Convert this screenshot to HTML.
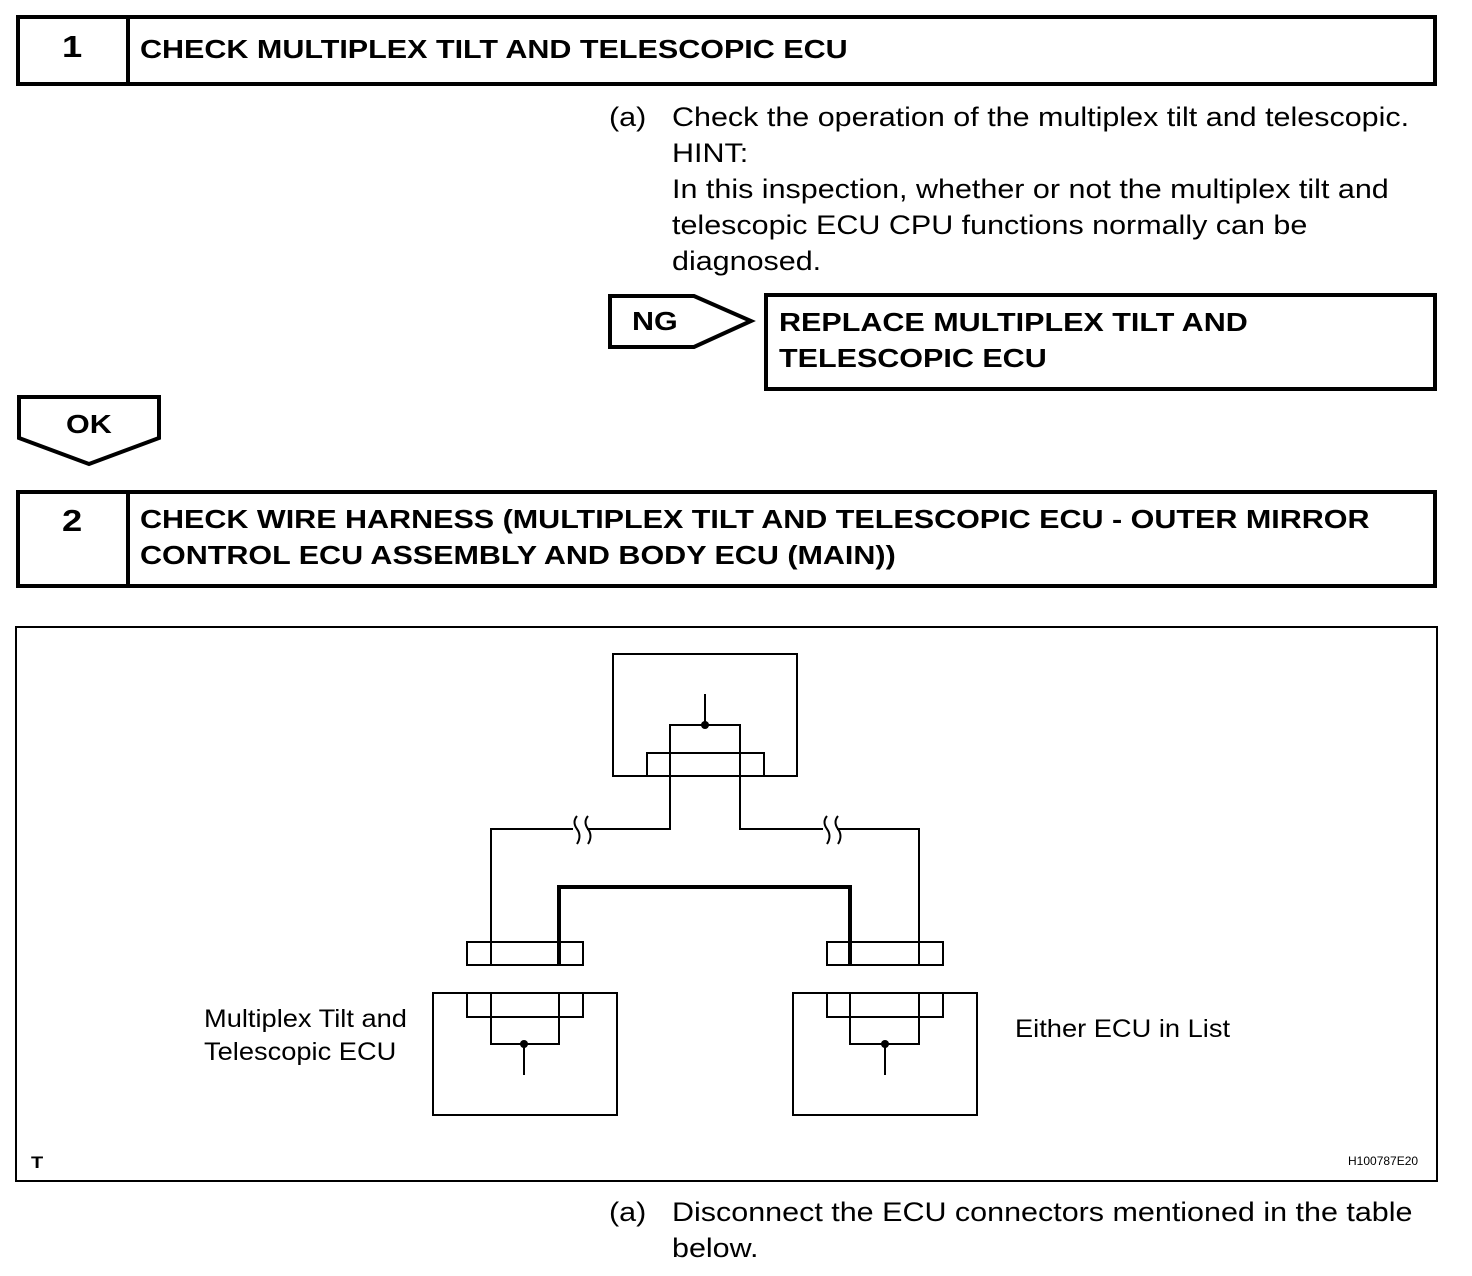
<!DOCTYPE html>
<html><head><style>
body{margin:0;background:#fff;width:1472px;height:1276px;position:relative;font-family:"Liberation Sans",Arial,sans-serif;overflow:hidden}
.t{position:absolute;font-size:27px;line-height:36px;color:#000;white-space:nowrap;transform-origin:0 0;transform:scaleX(1.129)}
.b{font-weight:bold;font-size:26px;transform:scaleX(1.173)}
.l{font-size:25px;line-height:33px;transform:scaleX(1.09)}
</style></head><body>
<svg width="1472" height="1276" style="position:absolute;left:0;top:0" fill="none" stroke="#000">
<g stroke-width="4">
<rect x="18" y="17" width="1417" height="67"/><line x1="128" y1="17" x2="128" y2="84"/>
<rect x="18" y="492" width="1417" height="94"/><line x1="128" y1="492" x2="128" y2="586"/>
<rect x="766" y="295" width="669" height="94"/>
<polygon points="610,296 694,296 751,321 694,347 610,347"/>
<polygon points="19,397 159,397 159,438 89,464 19,438"/>
</g>
<rect x="16" y="627" width="1421" height="554" stroke-width="2"/>
<g stroke-width="2">
<rect x="613" y="654" width="184" height="122"/>
<rect x="647" y="753" width="117" height="23"/>
<polyline points="705,694 705,725"/>
<polyline points="670,776 670,725 740,725 740,776"/>
<polyline points="670,776 670,829 491,829 491,965"/>
<polyline points="740,776 740,829 919,829 919,965"/>
<rect x="467" y="942" width="116" height="23"/>
<rect x="827" y="942" width="116" height="23"/>
<rect x="433" y="993" width="184" height="122"/>
<rect x="793" y="993" width="184" height="122"/>
<rect x="467" y="993" width="116" height="24"/>
<rect x="827" y="993" width="116" height="24"/>
<polyline points="491,993 491,1044 559,1044 559,993"/>
<polyline points="850,993 850,1044 919,1044 919,993"/>
<line x1="524" y1="1044" x2="524" y2="1075"/>
<line x1="885" y1="1044" x2="885" y2="1075"/>
</g>
<polyline points="559,965 559,887 850,887 850,965" stroke-width="4"/>
<g stroke-width="2" stroke="#000">
<rect x="573" y="822" width="14" height="16" fill="#fff" stroke="none"/>
<path d="M577,816 q-5,6 0,13 q5,7 0,15"/><path d="M588,816 q-5,6 0,13 q5,7 0,15"/>
<rect x="823" y="822" width="14" height="16" fill="#fff" stroke="none"/>
<path d="M827,816 q-5,6 0,13 q5,7 0,15"/><path d="M838,816 q-5,6 0,13 q5,7 0,15"/>
</g>
<g fill="#000" stroke="none"><circle cx="705" cy="725" r="4"/><circle cx="524" cy="1044" r="4"/><circle cx="885" cy="1044" r="4"/></g>
</svg>
<div class="t b" style="left:62px;top:29px;font-size:31px">1</div>
<div class="t b" style="left:140px;top:31px">CHECK MULTIPLEX TILT AND TELESCOPIC ECU</div>
<div class="t" style="left:609px;top:99px">(a)</div>
<div class="t" style="left:672px;top:99px">Check the operation of the multiplex tilt and telescopic.<br>HINT:<br>In this inspection, whether or not the multiplex tilt and<br>telescopic ECU CPU functions normally can be<br>diagnosed.</div>
<div class="t b" style="left:632px;top:303px">NG</div>
<div class="t b" style="left:779px;top:304px;line-height:36px">REPLACE MULTIPLEX TILT AND<br>TELESCOPIC ECU</div>
<div class="t b" style="left:66px;top:406px">OK</div>
<div class="t b" style="left:62px;top:503px;font-size:31px">2</div>
<div class="t b" style="left:140px;top:501px;line-height:36px">CHECK WIRE HARNESS (MULTIPLEX TILT AND TELESCOPIC ECU - OUTER MIRROR<br>CONTROL ECU ASSEMBLY AND BODY ECU (MAIN))</div>
<div class="t l" style="left:204px;top:1003px">Multiplex Tilt and<br>Telescopic ECU</div>
<div class="t l" style="left:1015px;top:1013px">Either ECU in List</div>
<div class="t b" style="left:31px;top:1153px;font-size:17px;line-height:20px">T</div>
<div class="t" style="left:1348px;top:1153px;font-size:12px;line-height:16px;transform:none">H100787E20</div>
<div class="t" style="left:609px;top:1194px">(a)</div>
<div class="t" style="left:672px;top:1194px">Disconnect the ECU connectors mentioned in the table<br>below.</div>
</body></html>
